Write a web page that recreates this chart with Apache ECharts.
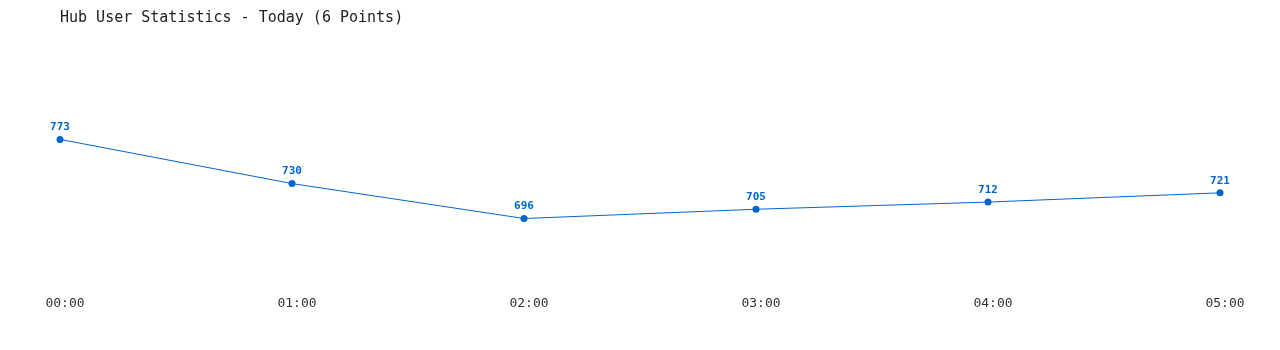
<!DOCTYPE html>
<html>
<head>
<meta charset="utf-8">
<script src="https://cdn.jsdelivr.net/npm/echarts@6/dist/echarts.min.js"></script>
<style>html,body{margin:0;padding:0;background:#fff;}#c{width:1280px;height:350px;}</style>
</head>
<body>
<div id="c"></div>
<script>
const titleText = "Hub User Statistics - Today (6 Points)";
const categories = ["00:00", "01:00", "02:00", "03:00", "04:00", "05:00"];
const users = [773, 730, 696, 705, 712, 721];

const chart = echarts.init(document.getElementById('c'));
const mono = '"DejaVu Sans Mono", "Liberation Mono", monospace';
const minV = Math.min(...users), maxV = Math.max(...users);
chart.setOption({
  animation: false,
  backgroundColor: '#ffffff',
  title: {
    text: titleText,
    left: 55, top: 6,
    textStyle: { fontFamily: mono, fontSize: 15, fontWeight: 'normal', color: '#222' }
  },
  grid: { left: 60, right: 60, top: 60, bottom: 60 },
  xAxis: {
    type: 'category',
    data: categories,
    boundaryGap: false,
    axisLine: { show: false },
    axisTick: { show: false },
    splitLine: { show: false },
    axisLabel: { fontFamily: mono, fontSize: 13, color: '#333', margin: 7, padding: [0, 0, 0, 10] }
  },
  yAxis: {
    type: 'value',
    min: minV * 0.9,
    max: maxV * 1.1,
    show: false,
    splitLine: { show: false }
  },
  series: [{
    type: 'line',
    data: users,
    symbol: 'circle',
    symbolSize: 7,
    lineStyle: { color: '#0066cc', width: 1 },
    itemStyle: { color: '#0066cc' },
    label: {
      show: true, position: 'top', distance: 3,
      fontFamily: mono, fontSize: 11, fontWeight: 'bold', color: '#0066cc'
    }
  }]
});
</script>
</body>
</html>
